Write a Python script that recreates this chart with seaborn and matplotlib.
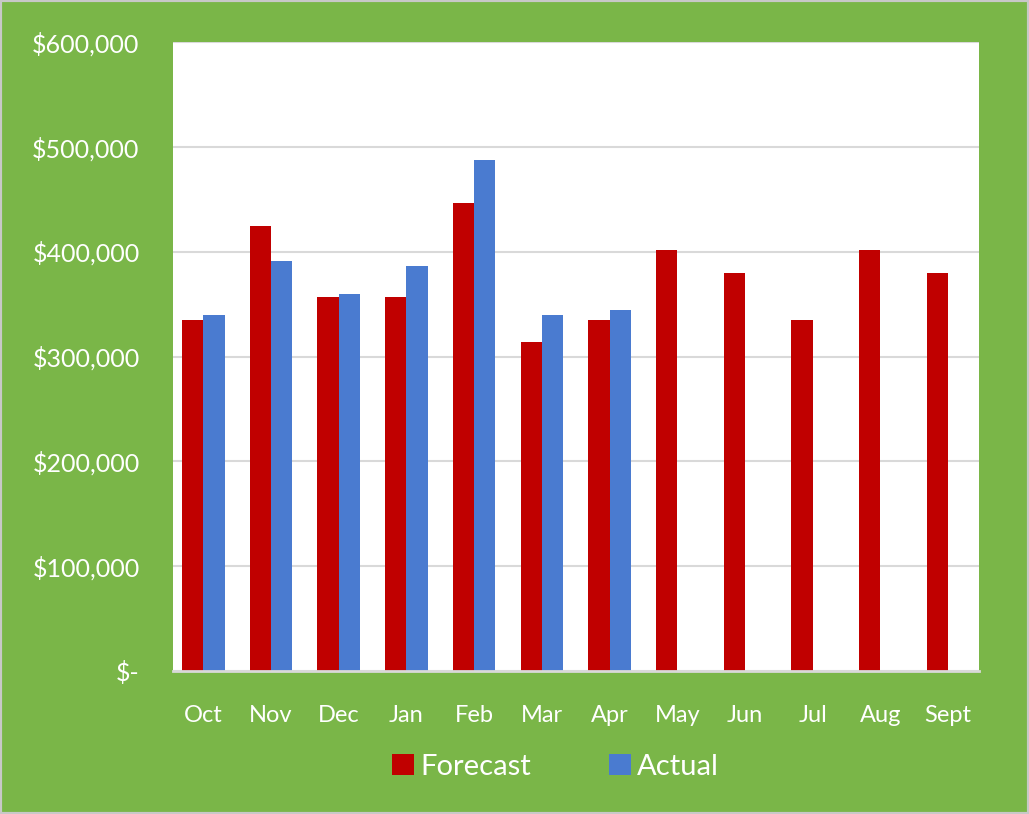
import matplotlib
matplotlib.use("Agg")
import matplotlib.pyplot as plt
import seaborn as sns
import pandas as pd
import numpy as np
from matplotlib.ticker import FuncFormatter

months = ["Oct", "Nov", "Dec", "Jan", "Feb", "Mar", "Apr", "May", "Jun", "Jul", "Aug", "Sept"]
forecast = [335000, 425000, 357000, 357000, 447000, 314000, 335000, 402000, 380000, 335000, 402000, 380000]
actual = [340000, 391000, 360000, 386000, 488000, 340000, 344000, np.nan, np.nan, np.nan, np.nan, np.nan]
series = ["Forecast", "Actual"]
colors = ["#C00000", "#4A7BD0"]
yticks = [0, 100000, 200000, 300000, 400000, 500000, 600000]

df = pd.DataFrame({
    "Month": months * 2,
    "Value": forecast + actual,
    "Series": [series[0]] * len(months) + [series[1]] * len(months),
})

sns.set_style("white")
plt.rcParams["font.family"] = ["Lato", "DejaVu Sans"]

green = "#7AB648"
fig = plt.figure(figsize=(10.29, 8.14), dpi=100, facecolor=green)
fig.patches.append(plt.Rectangle((0, 0), 1, 1, transform=fig.transFigure,
                                 fill=False, edgecolor="#C8C8C8", linewidth=3))
ax = fig.add_axes([0.168, 0.176, 0.783, 0.772])
ax.set_facecolor("white")

sns.barplot(data=df, x="Month", y="Value", hue="Series", order=months,
            hue_order=series, palette=colors, width=0.63, ax=ax,
            saturation=1, errorbar=None, legend=True, linewidth=0)

ax.set_ylim(0, 600000)
ax.set_xlim(-0.45, len(months) - 0.55)
ax.set_yticks(yticks)
ax.yaxis.set_major_formatter(FuncFormatter(lambda v, p: "$-" if v == 0 else f"${v:,.0f}"))
ax.grid(axis="y", color="#D9D9D9", linewidth=1.5)
ax.set_axisbelow(True)
for s in ["top", "right", "left"]:
    ax.spines[s].set_visible(False)
ax.spines["bottom"].set_color("#D9D9D9")
ax.spines["bottom"].set_linewidth(2)
ax.tick_params(axis="y", length=0, pad=24, labelsize=18, labelcolor="white")
ax.tick_params(axis="x", length=0, pad=25, labelsize=17, labelcolor="white")
ax.set_xlabel("")
ax.set_ylabel("")

handles, labels = ax.get_legend_handles_labels()
for h in handles:
    h.set_linewidth(0)
ax.legend(handles, labels, loc="upper center", bbox_to_anchor=(0.475, -0.09),
          ncol=2, frameon=False, fontsize=21, labelcolor="white",
          handlelength=0.75, handleheight=0.75, handletextpad=0.2, columnspacing=2.7)

fig.savefig("out.png", dpi=100, facecolor=green)
